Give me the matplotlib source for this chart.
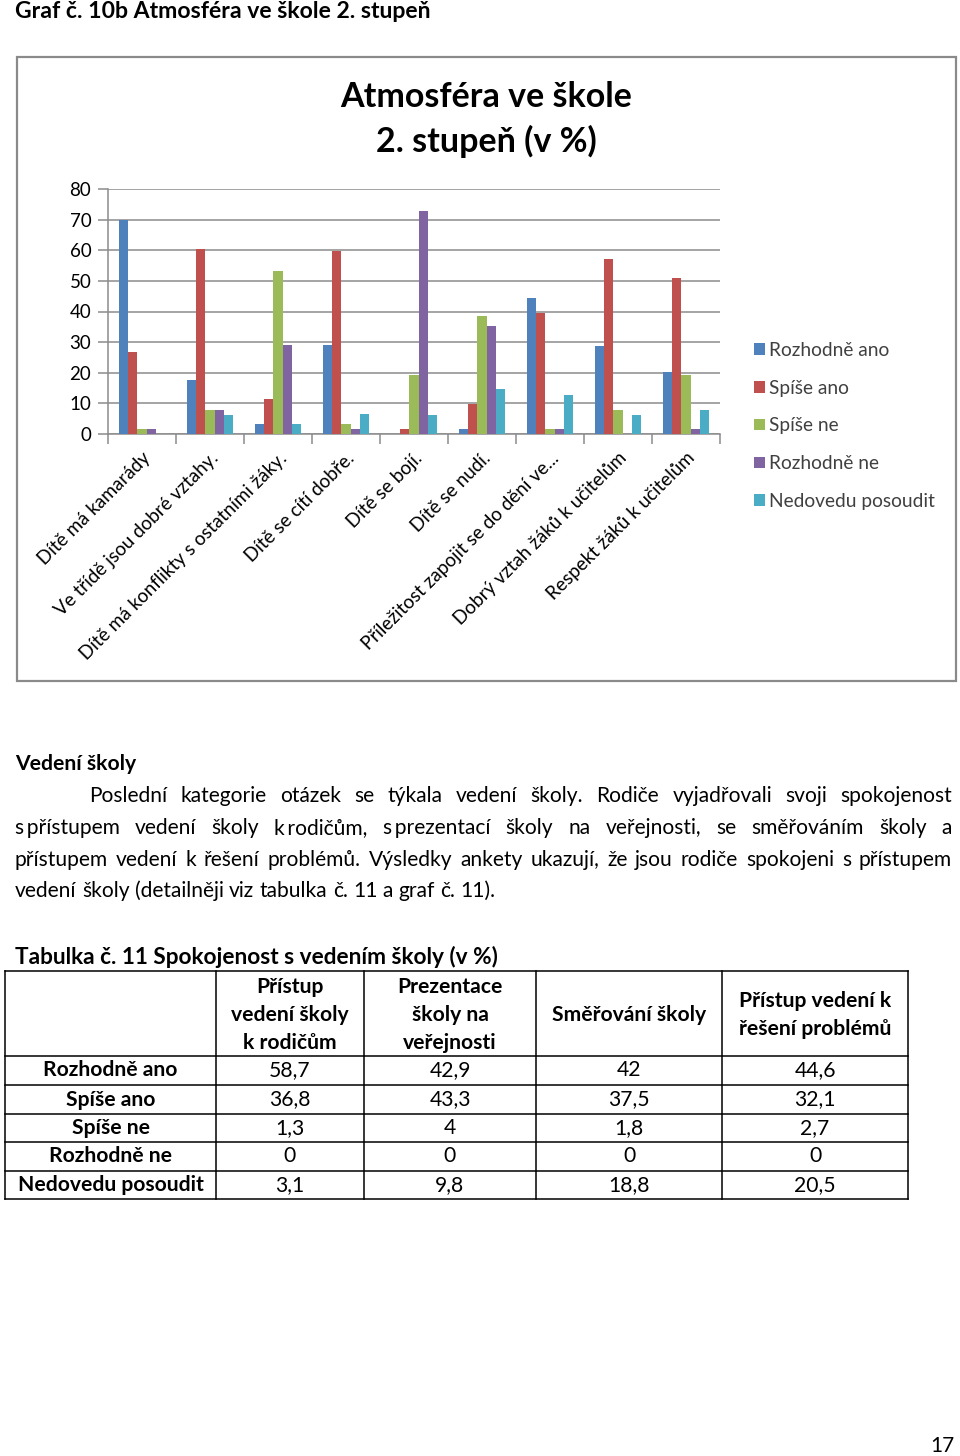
import matplotlib
matplotlib.use("Agg")
import matplotlib.pyplot as plt
import numpy as np

# data - chart
categories = ["Dítě má kamarády", "Ve třídě jsou dobré vztahy.",
              "Dítě má konflikty s ostatními žáky.", "Dítě se cítí dobře.",
              "Dítě se bojí.", "Dítě se nudí.",
              "Příležitost zapojit se do dění ve...",
              "Dobrý vztah žáků k učitelům", "Respekt žáků k učitelům"]
series_names = ["Rozhodně ano", "Spíše ano", "Spíše ne", "Rozhodně ne", "Nedovedu posoudit"]
rozhodne_ano = [70.0, 17.5, 3.3, 28.9, 0, 1.7, 44.5, 28.6, 20.4]
spise_ano = [26.9, 60.4, 11.4, 59.8, 1.7, 9.9, 39.6, 57.1, 50.9]
spise_ne = [1.7, 7.8, 53.3, 3.3, 19.2, 38.6, 1.7, 7.8, 19.2]
rozhodne_ne = [1.7, 7.8, 28.9, 1.7, 72.9, 35.4, 1.7, 0, 1.7]
nedovedu = [0, 6.2, 3.3, 6.5, 6.2, 14.6, 12.6, 6.2, 7.8]
colors = ["#4F81BD", "#C0504D", "#9BBB59", "#8064A2", "#4BACC6"]
y_ticks = [0, 10, 20, 30, 40, 50, 60, 70, 80]

# data - table
table_header = ["Přístup\nvedení školy\nk rodičům", "Prezentace\nškoly na\nveřejnosti",
                "Směřování školy", "Přístup vedení k\nřešení problémů"]
table_rows = ["Rozhodně ano", "Spíše ano", "Spíše ne", "Rozhodně ne", "Nedovedu posoudit"]
pristup_rodice = [58.7, 36.8, 1.3, 0, 3.1]
prezentace = [42.9, 43.3, 4, 0, 9.8]
smerovani = [42, 37.5, 1.8, 0, 18.8]
reseni_problemu = [44.6, 32.1, 2.7, 0, 20.5]

paragraph = [
    "Poslední kategorie otázek se týkala vedení školy. Rodiče vyjadřovali svoji spokojenost",
    "s\u2009přístupem vedení školy k\u2009rodičům, s\u2009prezentací školy na veřejnosti, se směřováním školy a",
    "přístupem vedení k řešení problémů. Výsledky ankety ukazují, že jsou rodiče spokojeni s přístupem",
    "vedení školy (detailněji viz tabulka č. 11 a graf č. 11).",
]

FONT = ["Lato", "DejaVu Sans"]
plt.rcParams["font.family"] = FONT

W, H = 960, 1456
fig = plt.figure(figsize=(W / 100, H / 100), dpi=100)
page = fig.add_axes([0, 0, 1, 1])
page.set_xlim(0, W)
page.set_ylim(H, 0)
page.axis("off")
renderer = fig.canvas.get_renderer()

# page texts
page.text(15, 11, "Graf č. 10b Atmosféra ve škole 2. stupeň", fontsize=16.6,
          fontweight="bold", va="center", ha="left")
page.add_patch(plt.Rectangle((17, 57), 939, 624, fill=False, edgecolor="#8a8a8a", lw=1.6))
page.text(486, 97, "Atmosféra ve škole", fontsize=24.5, fontweight="bold", ha="center", va="center")
page.text(486, 141, "2. stupeň (v %)", fontsize=24.5, fontweight="bold", ha="center", va="center")

page.text(15, 764, "Vedení školy", fontsize=15.2, fontweight="bold", va="center")


def justify(line, y, x0, x1, fs, last=False):
    words = line.split(" ")
    ts = [page.text(0, y, w, fontsize=fs, va="center", ha="left") for w in words]
    widths = [t.get_window_extent(renderer).width for t in ts]
    t2 = page.text(0, 0, "a a", fontsize=fs)
    t1 = page.text(0, 0, "a", fontsize=fs)
    space = t2.get_window_extent(renderer).width - 2 * t1.get_window_extent(renderer).width
    t2.remove()
    t1.remove()
    if last or len(words) == 1:
        gap = space
    else:
        gap = (x1 - x0 - sum(widths)) / (len(words) - 1)
    x = x0
    for t, w in zip(ts, widths):
        t.set_x(x)
        x += w + gap


body_fs = 15.1
line_y = [796, 828, 860, 891]
for i, line in enumerate(paragraph):
    x0 = 89 if i == 0 else 15
    justify(line, line_y[i], x0, 952, body_fs, last=(i == len(paragraph) - 1))

# table
page.text(15, 957, "Tabulka č. 11 Spokojenost s vedením školy (v %)", fontsize=16.3,
          fontweight="bold", va="center")
col_x = [5, 216, 364, 536, 722, 908]
row_y = [971, 1056, 1085, 1114, 1142, 1171, 1199]
for x in col_x:
    page.plot([x, x], [row_y[0], row_y[-1]], color="black", lw=1.1)
for y in row_y:
    page.plot([col_x[0], col_x[-1]], [y, y], color="black", lw=1.1)
tfs = 15.2
for j, h in enumerate(table_header):
    cx = (col_x[j + 1] + col_x[j + 2]) / 2
    page.text(cx, (row_y[0] + row_y[1]) / 2 + 1.5, h, fontsize=tfs, fontweight="bold",
              ha="center", va="center", linespacing=1.47)
columns = [pristup_rodice, prezentace, smerovani, reseni_problemu]
for i, name in enumerate(table_rows):
    cy = (row_y[i + 1] + row_y[i + 2]) / 2
    page.text((col_x[0] + col_x[1]) / 2, cy, name, fontsize=tfs, fontweight="bold",
              ha="center", va="center")
    for j, col in enumerate(columns):
        cx = (col_x[j + 1] + col_x[j + 2]) / 2
        val = ("%g" % col[i]).replace(".", ",")
        page.text(cx, cy, val, fontsize=tfs, ha="center", va="center")

page.text(942, 1446, "17", fontsize=15, ha="center", va="center")

# chart
ax = fig.add_axes([108 / W, 1 - 434 / H, (720 - 108) / W, (434 - 189) / H])
x = np.arange(len(categories))
bw = 0.135
series = [rozhodne_ano, spise_ano, spise_ne, rozhodne_ne, nedovedu]
bars = []
for k, (vals, c) in enumerate(zip(series, colors)):
    b = ax.bar(x + (k - 2) * bw, vals, width=bw, color=c, edgecolor="none",
               label=series_names[k], zorder=3)
    bars.append(b)
ax.set_xlim(-0.5, len(categories) - 0.5)
ax.set_ylim(0, 80)
ax.set_yticks(y_ticks)
ax.set_yticklabels([str(v) for v in y_ticks], fontsize=13.5)
ax.yaxis.grid(True, color="#8c8c8c", lw=1.1, zorder=0)
ax.tick_params(axis="y", length=7, color="#8c8c8c", width=1.1, pad=5)
ax.set_xticks(x)
ax.set_xticklabels(categories, rotation=45, ha="right", rotation_mode="anchor", fontsize=13.6)
ax.set_xticks(np.arange(len(categories) + 1) - 0.5, minor=True)
ax.tick_params(axis="x", which="major", length=0, pad=11)
ax.tick_params(axis="x", which="minor", length=7, color="#8c8c8c", width=1.1)
for s in ["top", "right"]:
    ax.spines[s].set_visible(False)
for s in ["left", "bottom"]:
    ax.spines[s].set_color("#8c8c8c")
    ax.spines[s].set_linewidth(1.1)
ax.set_facecolor("none")

leg = fig.legend(handles=bars, loc="upper left", bbox_to_anchor=(754 / W, 1 - 342 / H),
                 frameon=False, fontsize=13.8, handlelength=0.55, handleheight=0.55,
                 handletextpad=0.25, labelspacing=1.08, borderaxespad=0, borderpad=0)
for t in leg.get_texts():
    t.set_color("#404040")

fig.savefig("out.png", dpi=100)
